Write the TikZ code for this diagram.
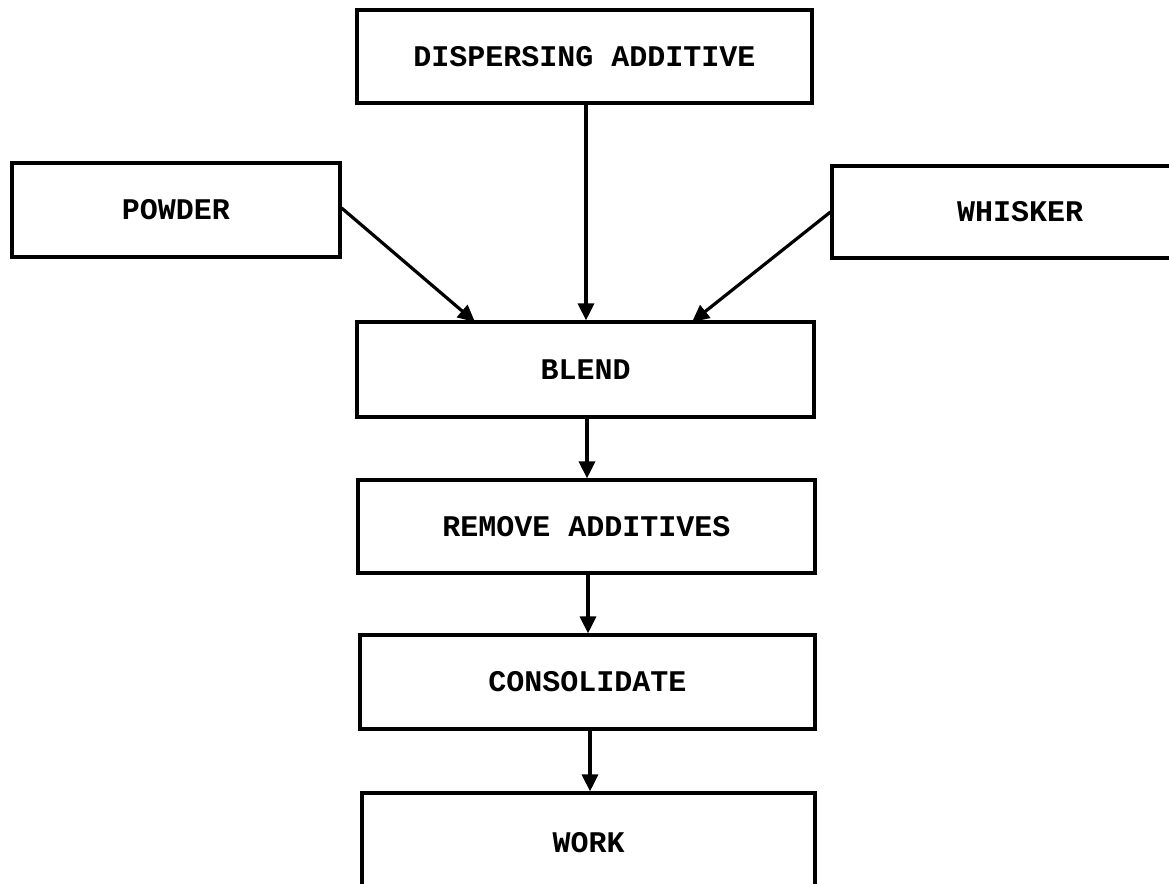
\documentclass[tikz,border=0pt]{standalone}
\usepackage{fontspec}
\setmonofont{Liberation Mono}
\usetikzlibrary{arrows.meta}
\tikzset{
  box/.style={draw, line width=3.2pt, inner sep=0pt, font=\ttfamily\bfseries\fontsize{30}{33}\selectfont},
  conn/.style={line width=3.2pt, -{Triangle[length=17pt,width=16pt]}},
}
\begin{document}
\begin{tikzpicture}[x=1pt,y=-1pt]
\clip (0,0) rectangle (1169,883);
\useasboundingbox (0,0) rectangle (1169,883);
\fill[white] (0,0) rectangle (1169,883);
\node[box, minimum width=455pt, minimum height=93pt] (disp) at (584.5,56.5) {DISPERSING ADDITIVE};
\node[box, minimum width=328pt, minimum height=94pt] (powder) at (176,210) {POWDER};
\node[box, minimum width=376pt, minimum height=92pt] (whisker) at (1020,212) {WHISKER};
\node[box, minimum width=457pt, minimum height=95pt] (blend) at (585.5,369.5) {BLEND};
\node[box, minimum width=457pt, minimum height=93pt] (remove) at (586.5,526.5) {REMOVE ADDITIVES};
\node[box, minimum width=455pt, minimum height=94pt] (consol) at (587.5,682) {CONSOLIDATE};
\node[box, minimum width=453pt, minimum height=100pt] (work) at (588.5,843) {WORK};
\coordinate (bp) at (475,322);
\coordinate (bw) at (692,322);
\draw[conn] (disp.south -| 586,0) -- (blend.north -| 586,0);
\draw[conn] (powder.east |- 0,208) -- (bp);
\draw[conn] (whisker.west |- 0,212) -- (bw);
\draw[conn] (blend.south -| 587,0) -- (remove.north -| 587,0);
\draw[conn] (remove.south -| 588,0) -- (consol.north -| 588,0);
\draw[conn] (consol.south -| 590,0) -- (work.north -| 590,0);
\end{tikzpicture}
\end{document}
